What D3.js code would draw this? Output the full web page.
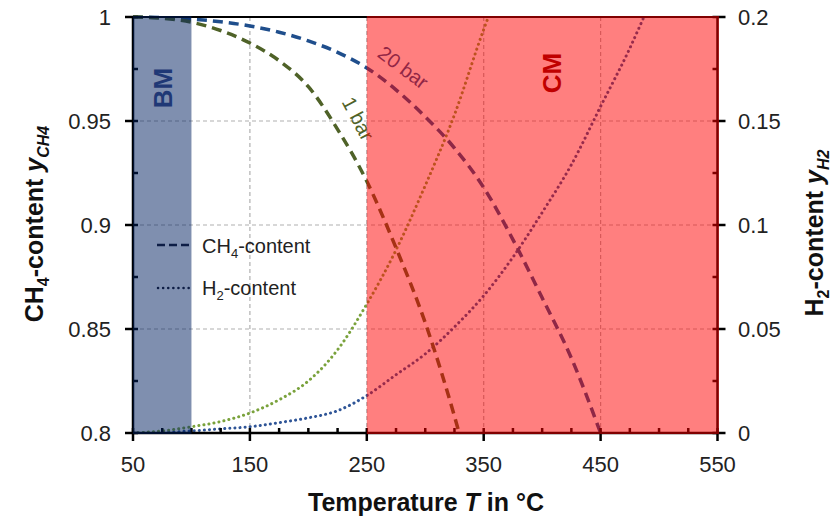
<!DOCTYPE html>
<html><head><meta charset="utf-8">
<script src="https://cdn.jsdelivr.net/npm/d3@7"></script>
<style>body{margin:0;background:#fff}svg{display:block;font-family:Arial,"Liberation Sans",sans-serif}</style>
</head><body><svg id="c" width="840" height="519"></svg>
<script>
// Data
const ch4Temp1bar = [50,75,100,125,150,175,200,225,250,275,300,325,329];
const ch4Val1bar  = [1.0,0.9994,0.9975,0.9935,0.9875,0.979,0.9665,0.946,0.921,0.889,0.853,0.808,0.80];
const ch4Temp20bar = [50,75,100,125,150,175,200,225,250,275,300,325,350,375,400,425,450];
const ch4Val20bar  = [1.0,0.9997,0.999,0.9977,0.9957,0.9927,0.9885,0.983,0.9755,0.965,0.952,0.937,0.918,0.893,0.865,0.836,0.80];
const h2Temp1bar = [50,75,100,125,150,175,200,225,250,275,300,325,350,354];
const h2Val1bar  = [0,0.001,0.003,0.0055,0.0096,0.016,0.025,0.040,0.062,0.088,0.119,0.153,0.194,0.20];
const h2Temp20bar = [50,75,100,125,150,175,200,225,250,275,300,325,350,375,400,425,450,475,487];
const h2Val20bar  = [0,0.0003,0.001,0.002,0.003,0.005,0.0073,0.0107,0.018,0.028,0.038,0.051,0.066,0.0845,0.106,0.129,0.157,0.185,0.20];
const xTicks = [50,150,250,350,450,550];
const yLeftTicks = [0.8,0.85,0.9,0.95,1];
const yLeftLabels = ["0.8","0.85","0.9","0.95","1"];
const yRightTicks = [0,0.05,0.1,0.15,0.2];
const yRightLabels = ["0","0.05","0.1","0.15","0.2"];
const zones = [{name:"BM", from:50, to:100}, {name:"CM", from:250, to:550}];

const svg = d3.select("#c");
const L=133, R=717.5, T=17, B=433;
const x = d3.scaleLinear().domain([50,550]).range([L,R]);
const yL = d3.scaleLinear().domain([0.8,1]).range([B,T]);
const yR = d3.scaleLinear().domain([0,0.2]).range([B,T]);

svg.append("defs").append("clipPath").attr("id","clip")
  .append("rect").attr("x",L).attr("y",T-2).attr("width",R-L).attr("height",B-T+2);

// grid
const grid = svg.append("g").attr("stroke","#b0b0b0").attr("stroke-width",1.2).attr("stroke-dasharray","4,3");
[150,250,350,450].forEach(v=>grid.append("line").attr("x1",x(v)).attr("x2",x(v)).attr("y1",T).attr("y2",B));
[0.85,0.9,0.95].forEach(v=>grid.append("line").attr("x1",L).attr("x2",R).attr("y1",yL(v)).attr("y2",yL(v)));

// lines
const plot = svg.append("g").attr("clip-path","url(#clip)");
function draw(ts, vs, ys, color, dash, w){
  const pts = ts.map((t,i)=>[t,vs[i]]);
  plot.append("path").datum(pts)
    .attr("d", d3.line().x(d=>x(d[0])).y(d=>ys(d[1])).curve(d3.curveMonotoneX))
    .attr("fill","none").attr("stroke",color).attr("stroke-width",w)
    .attr("stroke-dasharray",dash).attr("stroke-linecap", dash==="0.1,5"?"round":"butt");
}
draw(h2Temp20bar,h2Val20bar,yR,"#2F5597","0.1,5",3);
draw(h2Temp1bar,h2Val1bar,yR,"#7AA23C","0.1,5",3);
draw(ch4Temp20bar,ch4Val20bar,yL,"#1F4E8C","10,6",3.5);
draw(ch4Temp1bar,ch4Val1bar,yL,"#4F6228","10,6",3.5);

// curve labels
svg.append("text").attr("transform","translate(399,73) rotate(37)").attr("text-anchor","middle")
  .attr("font-size",20).attr("fill","#1F4E8C").text("20 bar");
svg.append("text").attr("transform","translate(352,122) rotate(62)").attr("text-anchor","middle")
  .attr("font-size",20).attr("fill","#4F6228").text("1 bar");

// legend
const lg = svg.append("g");
lg.append("line").attr("x1",157).attr("x2",193).attr("y1",245).attr("y2",245)
  .attr("stroke","#1a1a2a").attr("stroke-width",2.5).attr("stroke-dasharray","8,4");
lg.append("line").attr("x1",158).attr("x2",193).attr("y1",288).attr("y2",288)
  .attr("stroke","#1a1a2a").attr("stroke-width",2.5).attr("stroke-dasharray","0.1,5").attr("stroke-linecap","round");
const t1 = lg.append("text").attr("x",202).attr("y",253).attr("font-size",20).attr("fill","#222");
t1.append("tspan").text("CH");
t1.append("tspan").attr("font-size",13).attr("dy",5).text("4");
t1.append("tspan").attr("dy",-5).text("-content");
const t2 = lg.append("text").attr("x",202).attr("y",295).attr("font-size",20).attr("fill","#222");
t2.append("tspan").text("H");
t2.append("tspan").attr("font-size",13).attr("dy",5).text("2");
t2.append("tspan").attr("dy",-5).text("-content");

// axes
const ax = svg.append("g").attr("stroke","#000");
ax.append("line").attr("x1",L).attr("x2",L).attr("y1",T-1).attr("y2",B+1).attr("stroke-width",2.5);
ax.append("line").attr("x1",R).attr("x2",R).attr("y1",T-1).attr("y2",B+1).attr("stroke-width",2.5);
ax.append("line").attr("x1",L).attr("x2",R).attr("y1",B).attr("y2",B).attr("stroke-width",2.5);
ax.append("line").attr("x1",L).attr("x2",R).attr("y1",T).attr("y2",T).attr("stroke-width",2);
d3.range(50,551,25).forEach(v=>{
  const major = xTicks.includes(v);
  ax.append("line").attr("x1",x(v)).attr("x2",x(v)).attr("y1",B-5).attr("y2",major?B+8:B).attr("stroke-width",2.5);
});
d3.range(0,9).forEach(i=>{
  const v = 0.8 + i*0.025, major = i%2===0;
  ax.append("line").attr("x1",major?L-8:L).attr("x2",L+5).attr("y1",yL(v)).attr("y2",yL(v)).attr("stroke-width",2.5);
  ax.append("line").attr("x1",R-5).attr("x2",major?R+8:R).attr("y1",yL(v)).attr("y2",yL(v)).attr("stroke-width",2.5);
});

// zone overlays
zones.forEach(z=>{
  svg.append("rect").attr("x",x(z.from)).attr("y",T-1).attr("width",x(z.to)-x(z.from)+(z.name==="CM"?1.5:0))
    .attr("height",B-T+2)
    .attr("fill", z.name==="BM" ? "rgba(0,32,96,0.5)" : "rgba(255,0,0,0.5)");
});
svg.append("text").attr("transform","translate(172,88) rotate(-90)").attr("text-anchor","middle")
  .attr("font-size",26).attr("font-weight","bold").attr("fill","#1F3876").text("BM");
svg.append("text").attr("transform","translate(561,73) rotate(-90)").attr("text-anchor","middle")
  .attr("font-size",26).attr("font-weight","bold").attr("fill","#C00000").text("CM");

// tick labels
const tl = svg.append("g").attr("font-size",22).attr("fill","#222");
xTicks.forEach(v=>tl.append("text").attr("x",x(v)).attr("y",472).attr("text-anchor","middle").text(v));
yLeftTicks.forEach((v,i)=>tl.append("text").attr("x",111).attr("y",yL(v)+8).attr("text-anchor","end").text(yLeftLabels[i]));
yRightTicks.forEach((v,i)=>tl.append("text").attr("x",738).attr("y",yR(v)+8).attr("text-anchor","start").text(yRightLabels[i]));

// axis titles
const xt = svg.append("text").attr("x",426).attr("y",511).attr("text-anchor","middle")
  .attr("font-size",25).attr("font-weight","bold").attr("fill","#111");
xt.append("tspan").text("Temperature ");
xt.append("tspan").attr("font-style","italic").text("T");
xt.append("tspan").text(" in °C");

const lt = svg.append("text").attr("transform","translate(43,224) rotate(-90)").attr("text-anchor","middle")
  .attr("font-size",25).attr("font-weight","bold").attr("fill","#111");
lt.append("tspan").text("CH");
lt.append("tspan").attr("font-size",16).attr("dy",6).text("4");
lt.append("tspan").attr("dy",-6).text("-content ");
lt.append("tspan").attr("font-style","italic").text("y");
lt.append("tspan").attr("font-style","italic").attr("font-size",16).attr("dy",6).text("CH4");

const rt = svg.append("text").attr("transform","translate(823,233) rotate(-90)").attr("text-anchor","middle")
  .attr("font-size",25).attr("font-weight","bold").attr("fill","#111");
rt.append("tspan").text("H");
rt.append("tspan").attr("font-size",16).attr("dy",6).text("2");
rt.append("tspan").attr("dy",-6).text("-content  ");
rt.append("tspan").attr("font-style","italic").text("y");
rt.append("tspan").attr("font-style","italic").attr("font-size",16).attr("dy",6).text("H2");
</script></body></html>
